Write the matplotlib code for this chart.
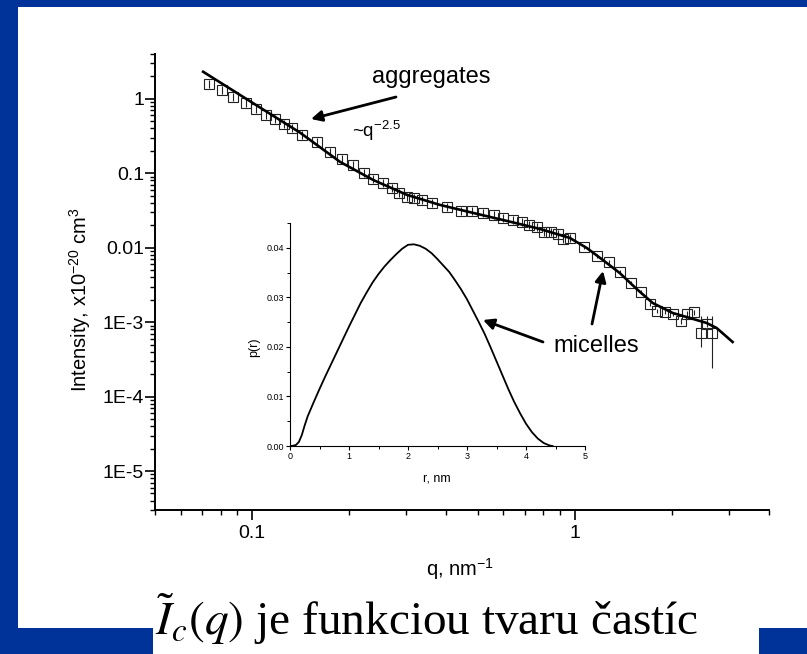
import matplotlib
matplotlib.use('Agg')
import matplotlib.pyplot as plt
from matplotlib.patches import Rectangle
from matplotlib.ticker import FixedLocator, LogLocator, NullFormatter, MultipleLocator, FormatStrFormatter

plt.rcParams['font.family'] = ['Liberation Sans', 'DejaVu Sans']
plt.rcParams['mathtext.fontset'] = 'custom'
plt.rcParams['mathtext.rm'] = 'Liberation Sans'
plt.rcParams['mathtext.it'] = 'Liberation Sans:italic'

# measured scattering curve
q = [0.0736, 0.0807, 0.0873, 0.0958, 0.1029, 0.1105, 0.1178, 0.1256, 0.133, 0.1428,
     0.159, 0.1744, 0.190, 0.2054, 0.2222, 0.237, 0.2544, 0.2713, 0.2852, 0.3019,
     0.3173, 0.3359, 0.3608, 0.4016, 0.4437, 0.4799, 0.519, 0.5614, 0.598, 0.643,
     0.685, 0.720, 0.763, 0.802, 0.843, 0.886, 0.918, 0.965, 1.066, 1.170,
     1.275, 1.378, 1.491, 1.601, 1.707, 1.794, 1.899, 2.011, 2.129, 2.222,
     2.335, 2.455, 2.562, 2.655]
I = [1.59, 1.32, 1.064, 0.884, 0.734, 0.609, 0.538, 0.461, 0.408, 0.328,
     0.264, 0.194, 0.156, 0.130, 0.101, 0.0841, 0.0743, 0.0637, 0.0545, 0.0482,
     0.0467, 0.0439, 0.0400, 0.0354, 0.0312, 0.0315, 0.0294, 0.0276, 0.0252, 0.0236,
     0.0222, 0.0203, 0.0190, 0.0163, 0.0163, 0.0153, 0.0131, 0.01354, 0.01025, 0.00776,
     0.00644, 0.00473, 0.00336, 0.00255, 0.00176, 0.00141, 0.00137, 0.00129, 0.00104, 0.00129,
     0.00137, 0.000716, 0.000946, 0.000716]
# relative error bars (lower, upper)
err_lo = [0.12] * 38 + [0.05] * 10 + [0.08, 0.08, 0.08, 0.35, 0.10, 0.66]
err_hi = [0.12] * 38 + [0.05] * 10 + [0.08, 0.08, 0.08, 0.69, 0.28, 0.69]

# fitted curve
q_fit = [0.0705, 0.0986, 0.1408, 0.1873, 0.237, 0.3019, 0.382, 0.4833, 0.616, 0.779,
         0.965, 1.089, 1.221, 1.378, 1.556, 1.744, 2.011, 2.270, 2.562, 2.752, 3.085]
I_fit = [2.31, 0.926, 0.351, 0.1423, 0.0815, 0.0513, 0.0376, 0.0294, 0.0229, 0.0179,
         0.01354, 0.00994, 0.00686, 0.00458, 0.00279, 0.00181, 0.00133, 0.00114, 0.000976, 0.000836,
         0.000542]

# pair distance distribution (inset)
r = [0.0, 0.05, 0.10, 0.15, 0.20, 0.25, 0.30, 0.40, 0.50, 0.60, 0.70, 0.80, 0.90, 1.00,
     1.10, 1.20, 1.30, 1.40, 1.50, 1.60, 1.70, 1.80, 1.90, 2.00, 2.10, 2.20, 2.30, 2.40,
     2.50, 2.60, 2.70, 2.80, 2.90, 3.00, 3.10, 3.20, 3.30, 3.40, 3.50, 3.60, 3.70, 3.80,
     3.90, 4.00, 4.10, 4.20, 4.30, 4.40, 4.45]
p = [0.0, 0.00005, 0.0002, 0.0008, 0.0022, 0.0042, 0.0060, 0.0088, 0.0115, 0.0141, 0.0166,
     0.0191, 0.0216, 0.0241, 0.0265, 0.0289, 0.0310, 0.0330, 0.0347, 0.0362, 0.0375, 0.0387,
     0.0398, 0.0406, 0.0407, 0.0404, 0.0398, 0.0389, 0.0377, 0.0364, 0.0351, 0.0334, 0.0316,
     0.0296, 0.0273, 0.0250, 0.0226, 0.0199, 0.0171, 0.0143, 0.0115, 0.0089, 0.0066, 0.0045,
     0.0028, 0.0015, 0.0006, 0.0001, 0.0]

yerr = [[v * a for v, a in zip(I, err_lo)], [v * b for v, b in zip(I, err_hi)]]

W, H = 807, 654
blue = '#003399'
fig = plt.figure(figsize=(W / 100, H / 100), dpi=100, facecolor=blue)
fig.add_artist(Rectangle((18 / W, 26 / H), 1 - 18 / W, (647 - 26) / H, transform=fig.transFigure,
                         facecolor='white', edgecolor='none', zorder=-2))
fig.add_artist(Rectangle((153 / W, 0), (759 - 153) / W, 27 / H, transform=fig.transFigure,
                         facecolor='white', edgecolor='none', zorder=-2))

ax = fig.add_axes([155 / W, 144 / H, 614 / W, 456 / H])
ax.set_facecolor('none')
ax.set_xscale('log')
ax.set_yscale('log')
ax.errorbar(q, I, yerr=yerr, fmt='s', mfc='none', mec='#222222', ms=6.5, mew=0.8,
            ecolor='#222222', elinewidth=0.8, capsize=0, zorder=2)
ax.plot(q_fit, I_fit, color='black', lw=1.9, zorder=3)
ax.set_xlim(0.05, 4.0)
ax.set_ylim(3e-6, 4.0)
for s in ['top', 'right']:
    ax.spines[s].set_visible(False)
for s in ['left', 'bottom']:
    ax.spines[s].set_linewidth(1.4)

ax.xaxis.set_major_locator(FixedLocator([0.1, 1]))
ax.set_xticklabels(['0.1', '1'])
ax.xaxis.set_minor_locator(LogLocator(base=10, subs=range(2, 10), numticks=20))
ax.xaxis.set_minor_formatter(NullFormatter())
ax.yaxis.set_major_locator(FixedLocator([1e-5, 1e-4, 1e-3, 0.01, 0.1, 1]))
ax.set_yticklabels(['1E-5', '1E-4', '1E-3', '0.01', '0.1', '1'])
ax.yaxis.set_minor_locator(LogLocator(base=10, subs=range(2, 10), numticks=20))
ax.yaxis.set_minor_formatter(NullFormatter())
ax.tick_params(axis='both', which='major', direction='out', length=7, width=1.2, labelsize=14)
ax.tick_params(axis='both', which='minor', direction='out', length=3.5, width=1.0)
ax.tick_params(axis='y', which='major', pad=1)
ax.tick_params(axis='x', which='major', pad=4)

ax.set_ylabel('Intensity, x10$^{-20}$ cm$^{3}$', fontsize=14.5)
ax.yaxis.set_label_coords(-0.101, 0.461)
ax.set_xlabel('q, nm$^{-1}$', fontsize=14.5)
ax.xaxis.set_label_coords(0.497, -0.101)

ins = fig.add_axes([290 / W, 208 / H, 295 / W, 223 / H])
ins.set_facecolor('none')
ins.plot(r, p, color='black', lw=1.3)
ins.set_xlim(0, 5)
ins.set_ylim(0, 0.045)
for s in ['top', 'right']:
    ins.spines[s].set_visible(False)
ins.xaxis.set_major_locator(MultipleLocator(1))
ins.xaxis.set_minor_locator(MultipleLocator(0.5))
ins.yaxis.set_major_locator(MultipleLocator(0.01))
ins.yaxis.set_minor_locator(MultipleLocator(0.005))
ins.yaxis.set_major_formatter(FormatStrFormatter('%.2f'))
ins.tick_params(which='major', direction='out', length=3, width=0.8, labelsize=6.5, pad=1.5)
ins.tick_params(which='minor', direction='out', length=2, width=0.7)
ins.set_xlabel('r, nm', fontsize=9)
ins.xaxis.set_label_coords(0.498, -0.117)
ins.set_ylabel('p(r)', fontsize=9)
ins.yaxis.set_label_coords(-0.102, 0.444)

arrow = dict(arrowstyle='-|>', lw=2, color='black', mutation_scale=16, shrinkA=0, shrinkB=0)
fig.text(431 / W, 571 / H, 'aggregates', fontsize=17, ha='center', va='baseline')
ax.annotate('', xy=(311, 535), xytext=(396, 557), xycoords='figure pixels',
            textcoords='figure pixels', arrowprops=arrow)
fig.text(352 / W, 517 / H, '~q$^{-2.5}$', fontsize=13.5, ha='left', va='baseline')
fig.text(596 / W, 302 / H, 'micelles', fontsize=17, ha='center', va='baseline')
ax.annotate('', xy=(483, 334), xytext=(543, 312), xycoords='figure pixels',
            textcoords='figure pixels', arrowprops=arrow)
ax.annotate('', xy=(603, 383), xytext=(592, 330), xycoords='figure pixels',
            textcoords='figure pixels', arrowprops=arrow)

fig.text(155 / W, 19 / H, r'$\tilde{I}_c(q)$ je funkciou tvaru častíc', fontsize=34,
         family='Liberation Serif', math_fontfamily='stix', ha='left', va='baseline')

fig.savefig('out.png', dpi=100, facecolor=fig.get_facecolor())
